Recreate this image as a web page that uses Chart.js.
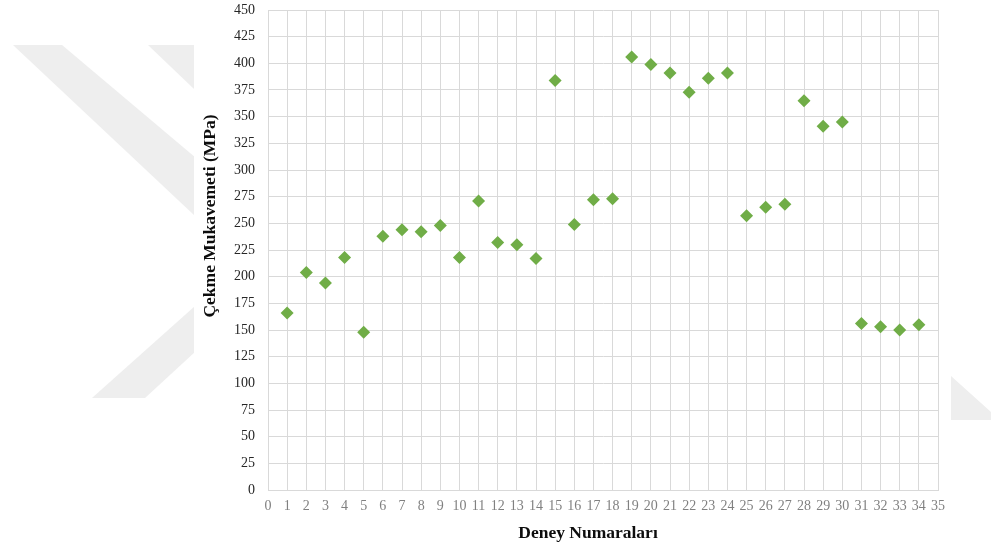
<!DOCTYPE html>
<html lang="tr">
<head>
<meta charset="utf-8">
<title>Çekme Mukavemeti</title>
<script src="https://cdn.jsdelivr.net/npm/chart.js@4/dist/chart.umd.min.js"></script>
<style>
  html, body { margin: 0; padding: 0; background: #ffffff; }
  #wrap { width: 991px; height: 548px; position: relative; }
</style>
</head>
<body>
<div id="wrap"><canvas id="chart" width="991" height="548"></canvas></div>
<script>
// Deney numaraları ve ölçülen çekme mukavemetleri (MPa)
const experiments = [1, 2, 3, 4, 5, 6, 7, 8, 9, 10, 11, 12, 13, 14, 15, 16, 17,
  18, 19, 20, 21, 22, 23, 24, 25, 26, 27, 28, 29, 30, 31, 32, 33, 34];
const tensileStrength = [166, 204, 194, 218, 148, 238, 244, 242, 248, 218, 271,
  232, 230, 217, 384, 249, 272, 273, 406, 399, 391, 373, 386, 391, 257, 265,
  268, 365, 341, 345, 156, 153, 150, 155];

// Eksen sınırları
const xRange = [0, 35];
const yRange = [0, 450];
const yStep = 25;

const xTitle = 'Deney Numaraları';
const yTitle = 'Çekme Mukavemeti (MPa)';

const points = experiments.map((e, i) => ({ x: e, y: tensileStrength[i] }));

const serif = '"Liberation Serif", "Times New Roman", serif';

// Sayfa arka planındaki soluk filigran ve grafiğin beyaz zemini
const backdrop = {
  id: 'backdrop',
  beforeDraw(chart) {
    const ctx = chart.ctx;
    ctx.save();
    ctx.fillStyle = '#ffffff';
    ctx.fillRect(0, 0, chart.width, chart.height);
    ctx.fillStyle = '#eeeeee';
    const shapes = [
      [[13, 45], [62, 45], [260, 212], [260, 277]],
      [[148, 45], [260, 45], [260, 152]],
      [[92, 398], [145, 398], [260, 292], [260, 248]],
      [[951, 376], [1000, 420], [951, 420]]
    ];
    shapes.forEach(poly => {
      ctx.beginPath();
      poly.forEach(([px, py], k) => k ? ctx.lineTo(px, py) : ctx.moveTo(px, py));
      ctx.closePath();
      ctx.fill();
    });
    ctx.fillStyle = '#ffffff';
    ctx.fillRect(194, 0, 951 - 194, chart.height);
    ctx.restore();
  }
};

// Eksen başlıkları
const axisTitles = {
  id: 'axisTitles',
  afterDraw(chart) {
    const ctx = chart.ctx;
    ctx.save();
    ctx.fillStyle = '#0d0d0d';
    ctx.font = 'bold 17.5px ' + serif;
    ctx.textAlign = 'center';
    ctx.textBaseline = 'middle';
    ctx.fillText(xTitle, 588, 533);
    ctx.translate(210, 216);
    ctx.rotate(-Math.PI / 2);
    ctx.fillText(yTitle, 0, 0);
    ctx.restore();
  }
};

new Chart(document.getElementById('chart'), {
  type: 'scatter',
  data: {
    datasets: [{
      data: points,
      pointStyle: 'rectRot',
      pointRadius: 6.5,
      pointHoverRadius: 6.5,
      backgroundColor: '#70ad47',
      borderColor: '#70ad47',
      borderWidth: 0
    }]
  },
  plugins: [backdrop, axisTitles],
  options: {
    responsive: false,
    animation: false,
    events: [],
    layout: { padding: { left: 0, right: 53, top: 0, bottom: 0 } },
    plugins: { legend: { display: false }, tooltip: { enabled: false } },
    scales: {
      x: {
        type: 'linear',
        min: xRange[0],
        max: xRange[1],
        afterFit(scale) { scale.height = 58; },
        ticks: {
          stepSize: 1,
          autoSkip: false,
          maxRotation: 0,
          padding: 8,
          color: '#808080',
          font: { family: serif, size: 14 }
        },
        grid: { color: '#d9d9d9', lineWidth: 1, drawTicks: false },
        border: { color: '#d9d9d9' }
      },
      y: {
        type: 'linear',
        min: yRange[0],
        max: yRange[1],
        afterFit(scale) {
          scale.width = 268;
          scale.paddingTop = 10;
          scale.paddingBottom = 0;
        },
        ticks: {
          stepSize: yStep,
          padding: 13,
          color: '#262626',
          font: { family: serif, size: 14 }
        },
        grid: { color: '#d9d9d9', lineWidth: 1, drawTicks: false },
        border: { color: '#d9d9d9' }
      }
    }
  }
});
</script>
</body>
</html>
